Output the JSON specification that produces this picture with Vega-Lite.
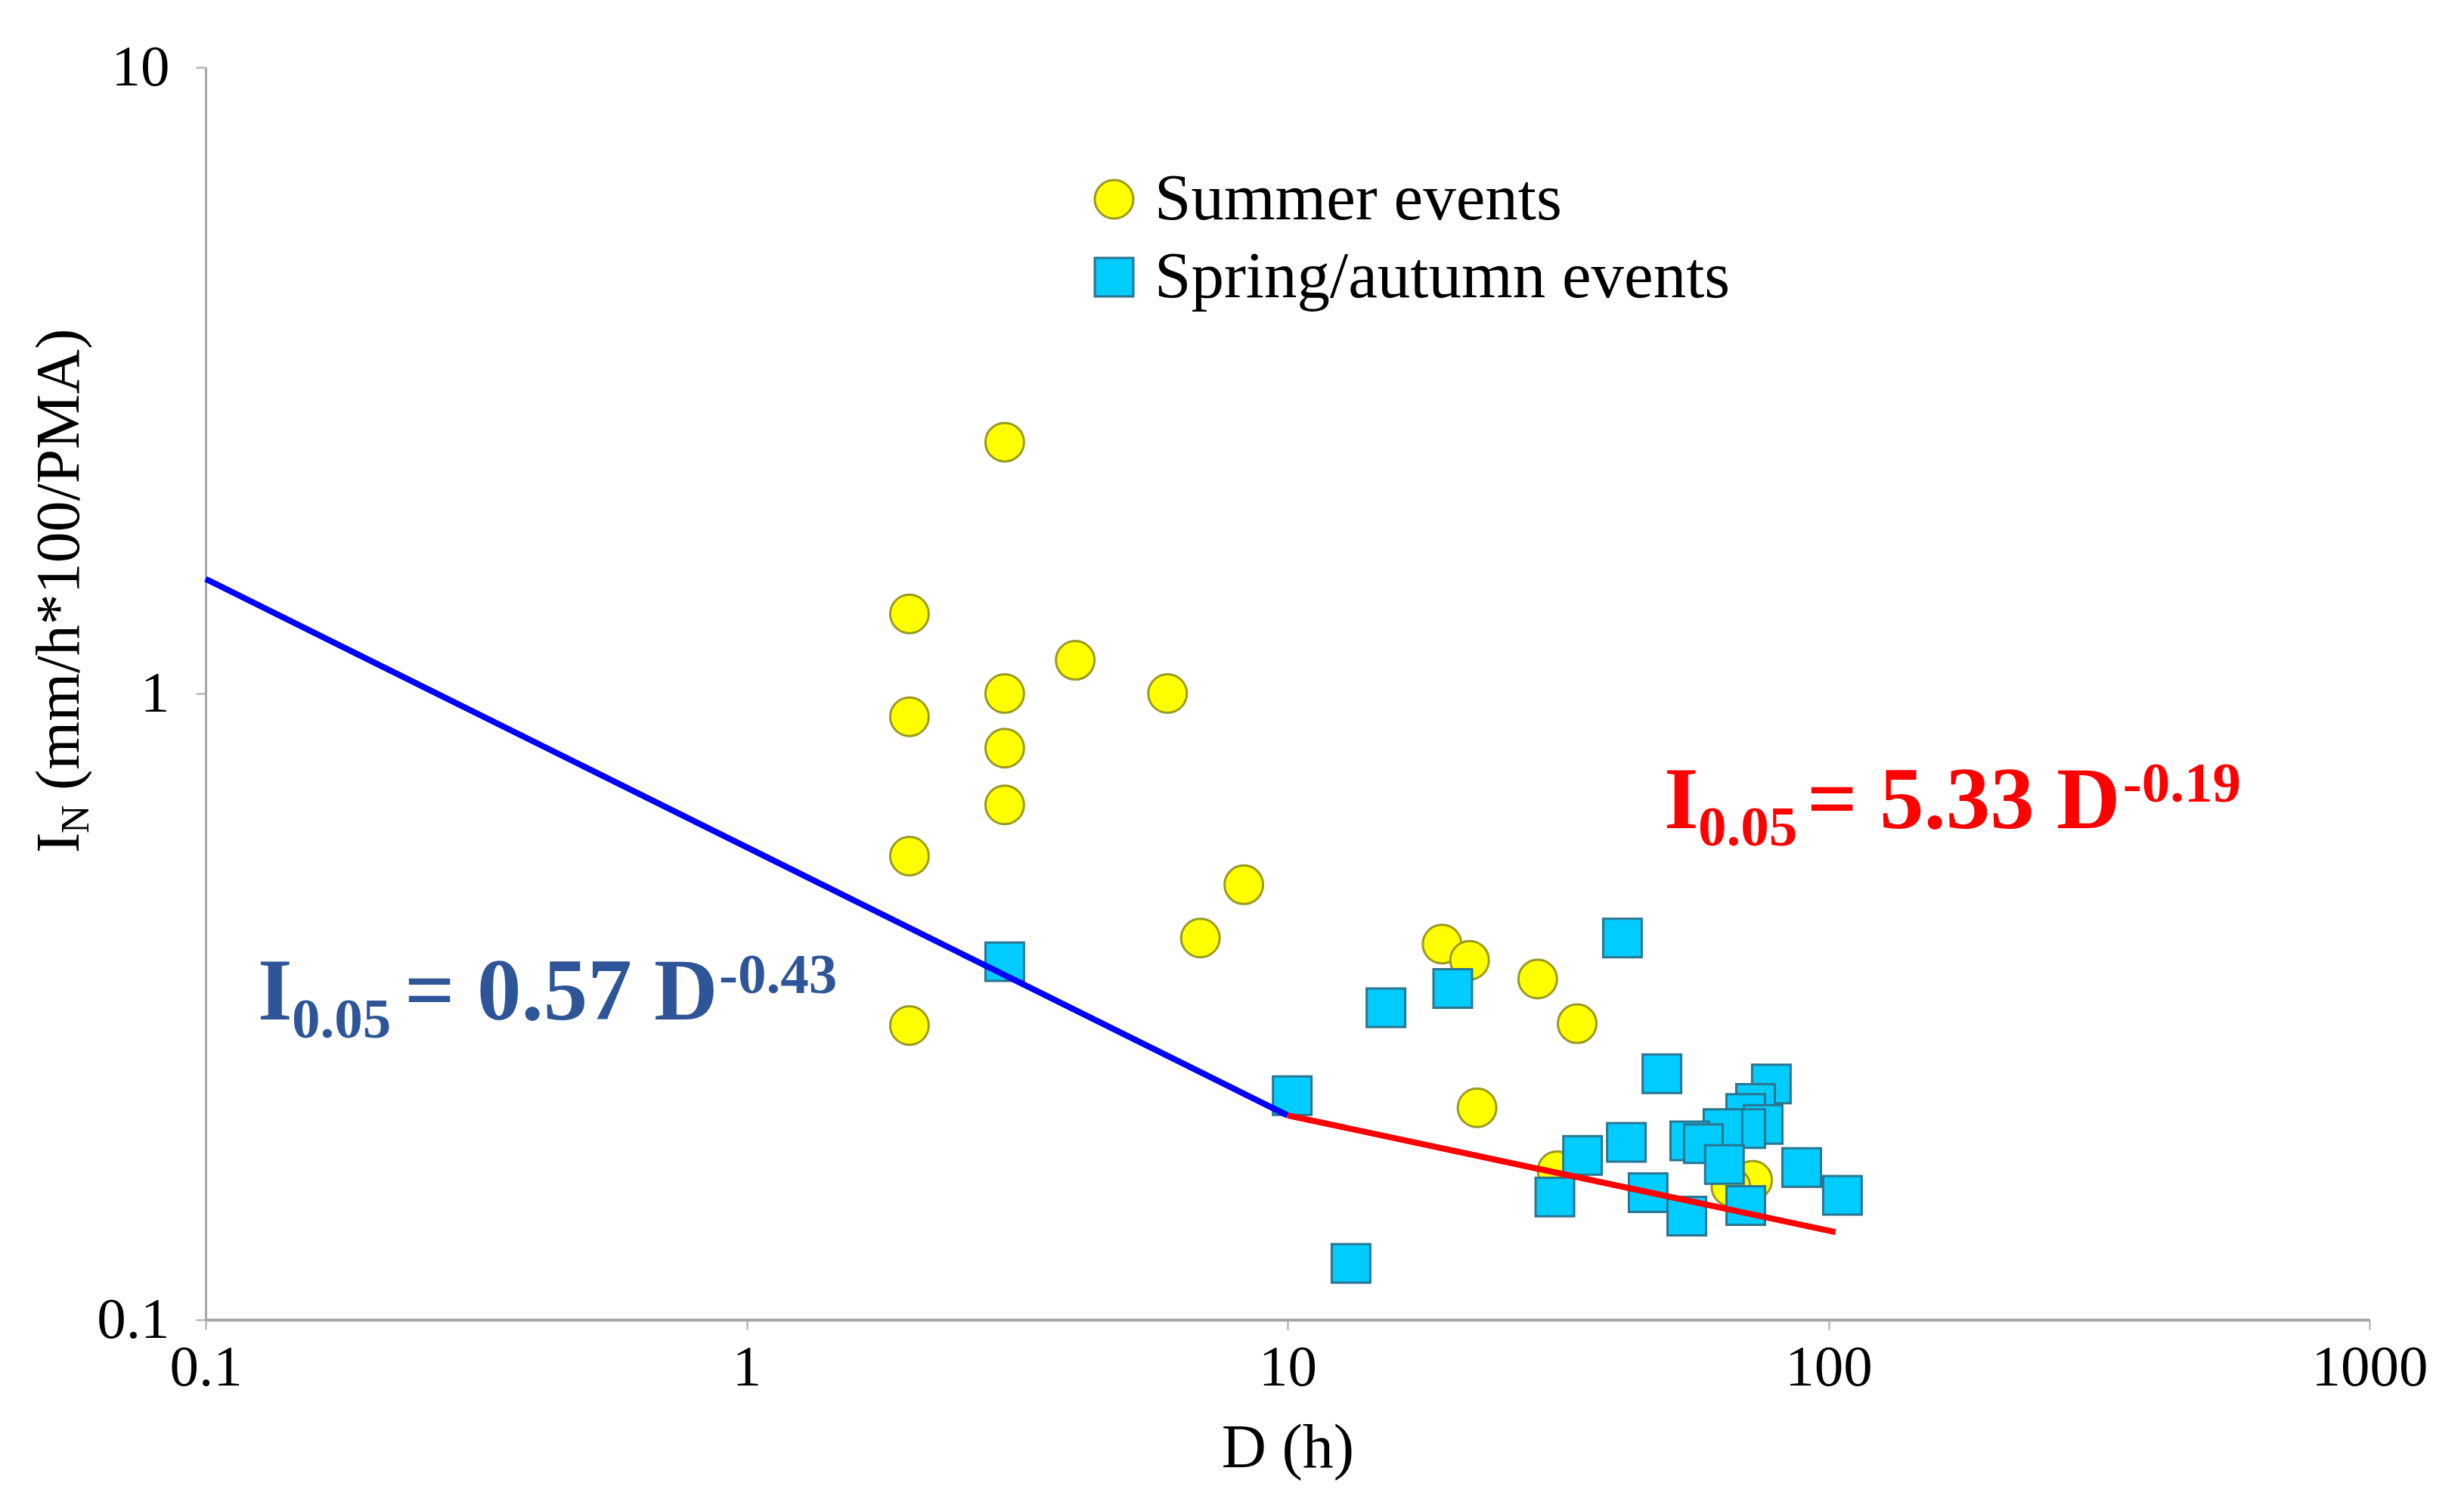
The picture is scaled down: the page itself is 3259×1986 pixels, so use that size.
{
  "$schema": "https://vega.github.io/schema/vega-lite/v6.json",
  "autosize": {"type": "none"},
  "padding": {"left": 272, "top": 89, "right": 125, "bottom": 241},
  "width": 2862,
  "height": 1656,
  "background": "white",
  "config": {"view": {"stroke": null}},
  "layer": [
    {
      "data": {"values": [
        {"season": "Summer events", "D": 3, "IN": 2.52},
        {"season": "Summer events", "D": 2, "IN": 1.34},
        {"season": "Summer events", "D": 4.05, "IN": 1.13},
        {"season": "Summer events", "D": 3, "IN": 1.0},
        {"season": "Summer events", "D": 6, "IN": 1.0},
        {"season": "Summer events", "D": 2, "IN": 0.918},
        {"season": "Summer events", "D": 3, "IN": 0.818},
        {"season": "Summer events", "D": 3, "IN": 0.664},
        {"season": "Summer events", "D": 2, "IN": 0.55},
        {"season": "Summer events", "D": 8.3, "IN": 0.495},
        {"season": "Summer events", "D": 6.9, "IN": 0.407},
        {"season": "Summer events", "D": 19.3, "IN": 0.398},
        {"season": "Summer events", "D": 21.7, "IN": 0.375},
        {"season": "Summer events", "D": 29, "IN": 0.35},
        {"season": "Summer events", "D": 34.3, "IN": 0.297},
        {"season": "Summer events", "D": 2, "IN": 0.295},
        {"season": "Summer events", "D": 22.4, "IN": 0.218},
        {"season": "Summer events", "D": 31.5, "IN": 0.173},
        {"season": "Summer events", "D": 72.4, "IN": 0.167},
        {"season": "Summer events", "D": 66, "IN": 0.163},
        {"season": "Spring/autumn events", "D": 3, "IN": 0.373},
        {"season": "Spring/autumn events", "D": 41.6, "IN": 0.407},
        {"season": "Spring/autumn events", "D": 15.2, "IN": 0.315},
        {"season": "Spring/autumn events", "D": 20.2, "IN": 0.338},
        {"season": "Spring/autumn events", "D": 10.2, "IN": 0.228},
        {"season": "Spring/autumn events", "D": 13.1, "IN": 0.123},
        {"season": "Spring/autumn events", "D": 49.2, "IN": 0.247},
        {"season": "Spring/autumn events", "D": 78.4, "IN": 0.238},
        {"season": "Spring/autumn events", "D": 73.3, "IN": 0.2215},
        {"season": "Spring/autumn events", "D": 70.3, "IN": 0.2135},
        {"season": "Spring/autumn events", "D": 75.7, "IN": 0.205},
        {"season": "Spring/autumn events", "D": 70.3, "IN": 0.202},
        {"season": "Spring/autumn events", "D": 63.8, "IN": 0.202},
        {"season": "Spring/autumn events", "D": 55.4, "IN": 0.193},
        {"season": "Spring/autumn events", "D": 58.7, "IN": 0.191},
        {"season": "Spring/autumn events", "D": 42.3, "IN": 0.192},
        {"season": "Spring/autumn events", "D": 35.1, "IN": 0.183},
        {"season": "Spring/autumn events", "D": 64.2, "IN": 0.177},
        {"season": "Spring/autumn events", "D": 89.2, "IN": 0.175},
        {"season": "Spring/autumn events", "D": 106.1, "IN": 0.158},
        {"season": "Spring/autumn events", "D": 31.2, "IN": 0.157},
        {"season": "Spring/autumn events", "D": 46.4, "IN": 0.1596},
        {"season": "Spring/autumn events", "D": 54.7, "IN": 0.1464},
        {"season": "Spring/autumn events", "D": 70.3, "IN": 0.1522}
      ]},
      "mark": {"type": "point", "filled": true, "opacity": 1, "strokeWidth": 3, "size": 2600},
      "encoding": {
        "x": {
          "field": "D", "type": "quantitative",
          "scale": {"type": "log", "domain": [0.1, 1000], "nice": false},
          "axis": {
            "values": [0.1, 1, 10, 100, 1000],
            "labelExpr": "'' + datum.value",
            "grid": false,
            "domainColor": "#A6A6A6", "domainWidth": 4,
            "tickColor": "#A6A6A6", "tickWidth": 2, "tickSize": 13,
            "labelFont": "Liberation Serif", "labelFontSize": 77, "labelColor": "#000000",
            "labelPadding": 12, "labelFlush": false, "labelOverlap": false,
            "title": "D (h)", "titleFont": "Liberation Serif", "titleFontSize": 82,
            "titleFontWeight": "normal", "titleColor": "#000000", "titlePadding": 28
          }
        },
        "y": {
          "field": "IN", "type": "quantitative",
          "scale": {"type": "log", "domain": [0.1, 10], "nice": false},
          "axis": {
            "values": [0.1, 1, 10],
            "labelExpr": "'' + datum.value",
            "grid": false,
            "domainColor": "#A6A6A6", "domainWidth": 3,
            "tickColor": "#A6A6A6", "tickWidth": 2, "tickSize": 13,
            "labelFont": "Liberation Serif", "labelFontSize": 77, "labelColor": "#000000",
            "labelPadding": 35, "labelFlush": false, "labelOverlap": false,
            "title": null
          }
        },
        "fill": {
          "field": "season", "type": "nominal",
          "scale": {"domain": ["Summer events", "Spring/autumn events"], "range": ["#FFFF00", "#00CCFF"]},
          "legend": {
            "orient": "none", "legendX": 1158, "legendY": 131, "title": null,
            "labelFont": "Liberation Serif", "labelFontSize": 87, "labelColor": "#000000",
            "symbolSize": 2600, "symbolStrokeWidth": 3, "rowPadding": 15, "labelOffset": 10,
            "labelLimit": 2000
          }
        },
        "stroke": {
          "field": "season", "type": "nominal",
          "scale": {"domain": ["Summer events", "Spring/autumn events"], "range": ["#9A9A20", "#2A7590"]}
        },
        "shape": {
          "field": "season", "type": "nominal",
          "scale": {"domain": ["Summer events", "Spring/autumn events"], "range": ["circle", "square"]}
        }
      }
    },
    {
      "data": {"values": [
        {"D": 0.1, "IN": 1.524},
        {"D": 10, "IN": 0.212}
      ]},
      "mark": {"type": "line", "color": "#0000FF", "strokeWidth": 8},
      "encoding": {
        "x": {"field": "D", "type": "quantitative"},
        "y": {"field": "IN", "type": "quantitative"}
      }
    },
    {
      "data": {"values": [
        {"D": 10, "IN": 0.212},
        {"D": 103, "IN": 0.138}
      ]},
      "mark": {"type": "line", "color": "#FF0000", "strokeWidth": 8},
      "encoding": {
        "x": {"field": "D", "type": "quantitative"},
        "y": {"field": "IN", "type": "quantitative"}
      }
    },
    {
      "data": {"values": [
        {"D": 0.1249, "IN": 0.3017, "label": "I"},
        {"D": 0.2331, "IN": 0.3017, "label": "= 0.57 D"}
      ]},
      "mark": {"type": "text", "align": "left", "baseline": "alphabetic", "font": "Liberation Serif", "fontWeight": "bold", "fontSize": 117, "color": "#2E5597"},
      "encoding": {
        "x": {"field": "D", "type": "quantitative"},
        "y": {"field": "IN", "type": "quantitative"},
        "text": {"field": "label"}
      }
    },
    {
      "data": {"values": [
        {"D": 0.1443, "IN": 0.2821, "label": "0.05"},
        {"D": 0.8893, "IN": 0.3323, "label": "-0.43"}
      ]},
      "mark": {"type": "text", "align": "left", "baseline": "alphabetic", "font": "Liberation Serif", "fontWeight": "bold", "fontSize": 75, "color": "#2E5597"},
      "encoding": {
        "x": {"field": "D", "type": "quantitative"},
        "y": {"field": "IN", "type": "quantitative"},
        "text": {"field": "label"}
      }
    },
    {
      "data": {"values": [
        {"D": 49.66, "IN": 0.6095, "label": "I"},
        {"D": 91.24, "IN": 0.6095, "label": "= 5.33 D"}
      ]},
      "mark": {"type": "text", "align": "left", "baseline": "alphabetic", "font": "Liberation Serif", "fontWeight": "bold", "fontSize": 117, "color": "#FF0000"},
      "encoding": {
        "x": {"field": "D", "type": "quantitative"},
        "y": {"field": "IN", "type": "quantitative"},
        "text": {"field": "label"}
      }
    },
    {
      "data": {"values": [
        {"D": 57.42, "IN": 0.5718, "label": "0.05"},
        {"D": 350.0, "IN": 0.6721, "label": "-0.19"}
      ]},
      "mark": {"type": "text", "align": "left", "baseline": "alphabetic", "font": "Liberation Serif", "fontWeight": "bold", "fontSize": 75, "color": "#FF0000"},
      "encoding": {
        "x": {"field": "D", "type": "quantitative"},
        "y": {"field": "IN", "type": "quantitative"},
        "text": {"field": "label"}
      }
    },
    {
      "data": {"values": [
        {"D": 0.05823, "IN": 0.556, "label": "I"},
        {"D": 0.05823, "IN": 0.7006, "label": "(mm/h*100/PMA)"}
      ]},
      "mark": {"type": "text", "align": "left", "baseline": "alphabetic", "angle": 270, "font": "Liberation Serif", "fontSize": 82, "color": "#000000"},
      "encoding": {
        "x": {"field": "D", "type": "quantitative"},
        "y": {"field": "IN", "type": "quantitative"},
        "text": {"field": "label"}
      }
    },
    {
      "data": {"values": [
        {"D": 0.06073, "IN": 0.5977, "label": "N"}
      ]},
      "mark": {"type": "text", "align": "left", "baseline": "alphabetic", "angle": 270, "font": "Liberation Serif", "fontSize": 52, "color": "#000000"},
      "encoding": {
        "x": {"field": "D", "type": "quantitative"},
        "y": {"field": "IN", "type": "quantitative"},
        "text": {"field": "label"}
      }
    }
  ]
}
